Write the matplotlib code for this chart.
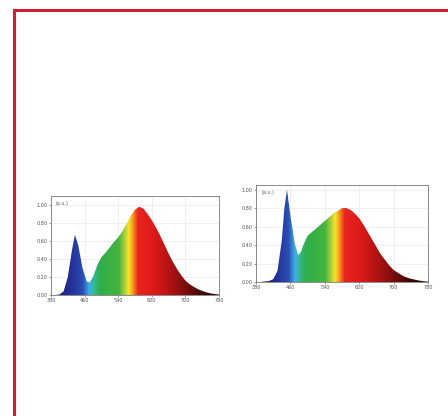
import matplotlib
matplotlib.use("Agg")
import matplotlib.pyplot as plt
import numpy as np
from matplotlib.colors import LinearSegmentedColormap
from matplotlib.lines import Line2D
from matplotlib.patches import Polygon

# spectrum 1 (warm white)
WL_A = [380, 390, 400, 410, 420, 430, 437, 445, 455, 465, 472, 480, 490, 500,
        510, 520, 530, 540, 550, 560, 570, 580, 590, 600, 610, 620, 630, 640,
        650, 660, 670, 680, 690, 700, 710, 720, 730, 740, 750, 760, 770, 780]
SPEC_A = [0.0, 0.0, 0.005, 0.04, 0.2, 0.5, 0.67, 0.55, 0.3, 0.15, 0.14, 0.2,
          0.33, 0.42, 0.47, 0.53, 0.59, 0.64, 0.71, 0.79, 0.88, 0.95, 0.98,
          0.96, 0.9, 0.83, 0.75, 0.66, 0.56, 0.46, 0.37, 0.29, 0.22, 0.16,
          0.12, 0.09, 0.065, 0.045, 0.03, 0.018, 0.01, 0.005]

# spectrum 2 (cool white)
WL_B = [380, 390, 400, 410, 420, 430, 440, 446, 452, 460, 470, 478, 485, 490,
        500, 510, 520, 530, 540, 550, 560, 570, 580, 590, 600, 610, 620, 630,
        640, 650, 660, 670, 680, 690, 700, 710, 720, 730, 740, 750, 760, 770, 780]
SPEC_B = [0.0, 0.0, 0.005, 0.01, 0.03, 0.12, 0.45, 0.8, 1.0, 0.72, 0.42, 0.29,
          0.33, 0.4, 0.5, 0.54, 0.58, 0.62, 0.66, 0.7, 0.74, 0.77, 0.8, 0.8,
          0.78, 0.74, 0.69, 0.62, 0.54, 0.46, 0.38, 0.3, 0.24, 0.18, 0.13,
          0.1, 0.07, 0.05, 0.035, 0.025, 0.015, 0.008, 0.004]

X_TICKS = [380, 460, 540, 620, 700, 780]
Y_TICKS = [0.0, 0.2, 0.4, 0.6, 0.8, 1.0]
UNIT_LABEL = "(a.u.)"

# wavelength -> colour nodes for the rainbow fill
WL_NODES = [380, 430, 455, 470, 482, 495, 540, 552, 564, 574, 586, 620, 650,
            690, 730, 780]
WL_COLORS = ["#1a1a6e", "#26329a", "#2a4fb5", "#3fb0e6", "#35b88c", "#2fae4a",
             "#45b33f", "#9cc93a", "#f5e52a", "#f7961d", "#e8251f", "#e01b1b",
             "#c01515", "#8a0f0f", "#4a0806", "#200404"]

WL_MIN, WL_MAX = 380, 780
spec_cmap = LinearSegmentedColormap.from_list(
    "spec", [((w - WL_MIN) / (WL_MAX - WL_MIN), c) for w, c in zip(WL_NODES, WL_COLORS)])


def draw_spectrum(ax, wl, spec, ytop):
    wl = np.asarray(wl, dtype=float)
    spec = np.asarray(spec, dtype=float)
    grad = np.linspace(0, 1, 400).reshape(1, -1)
    im = ax.imshow(grad, cmap=spec_cmap, aspect="auto",
                   extent=[WL_MIN, WL_MAX, 0, ytop], origin="lower", zorder=2)
    verts = np.column_stack([np.r_[wl[0], wl, wl[-1]], np.r_[0, spec, 0]])
    clip = Polygon(verts, closed=True, transform=ax.transData)
    im.set_clip_path(clip)

    ax.set_xlim(WL_MIN, WL_MAX)
    ax.set_ylim(0, ytop)
    ax.set_xticks(X_TICKS)
    ax.set_yticks(Y_TICKS)
    ax.set_xticklabels([str(t) for t in X_TICKS])
    ax.set_yticklabels([f"{t:.2f}" for t in Y_TICKS])
    ax.tick_params(labelsize=3.5, length=1.5, width=0.4, pad=1, colors="#555555")
    ax.grid(True, color="#e4e4e4", linewidth=0.4, zorder=0)
    ax.set_axisbelow(True)
    for s in ax.spines.values():
        s.set_color("#777777")
        s.set_linewidth(0.6)
    ax.text(0.03, 0.95, UNIT_LABEL, transform=ax.transAxes, fontsize=3.5,
            color="#666666", va="top", ha="left", zorder=3)


fig = plt.figure(figsize=(4.48, 4.16), dpi=100)
fig.patch.set_facecolor("white")

# red frame (top and left edges)
fig.add_artist(Line2D([13.5 / 448, 1.0], [1 - 10 / 416, 1 - 10 / 416],
                      color="#cc1f33", linewidth=2.2, transform=fig.transFigure))
fig.add_artist(Line2D([13.5 / 448, 13.5 / 448], [0.0, 1 - 10 / 416],
                      color="#cc1f33", linewidth=2.2, transform=fig.transFigure))

ax1 = fig.add_axes([51 / 448, 1 - 295 / 416, 168 / 448, 99 / 416])
draw_spectrum(ax1, WL_A, SPEC_A, 1.1)

ax2 = fig.add_axes([256 / 448, 1 - 282 / 416, 172 / 448, 97 / 416])
draw_spectrum(ax2, WL_B, SPEC_B, 1.05)

fig.savefig("out.png", dpi=100, facecolor="white")
plt.close(fig)
